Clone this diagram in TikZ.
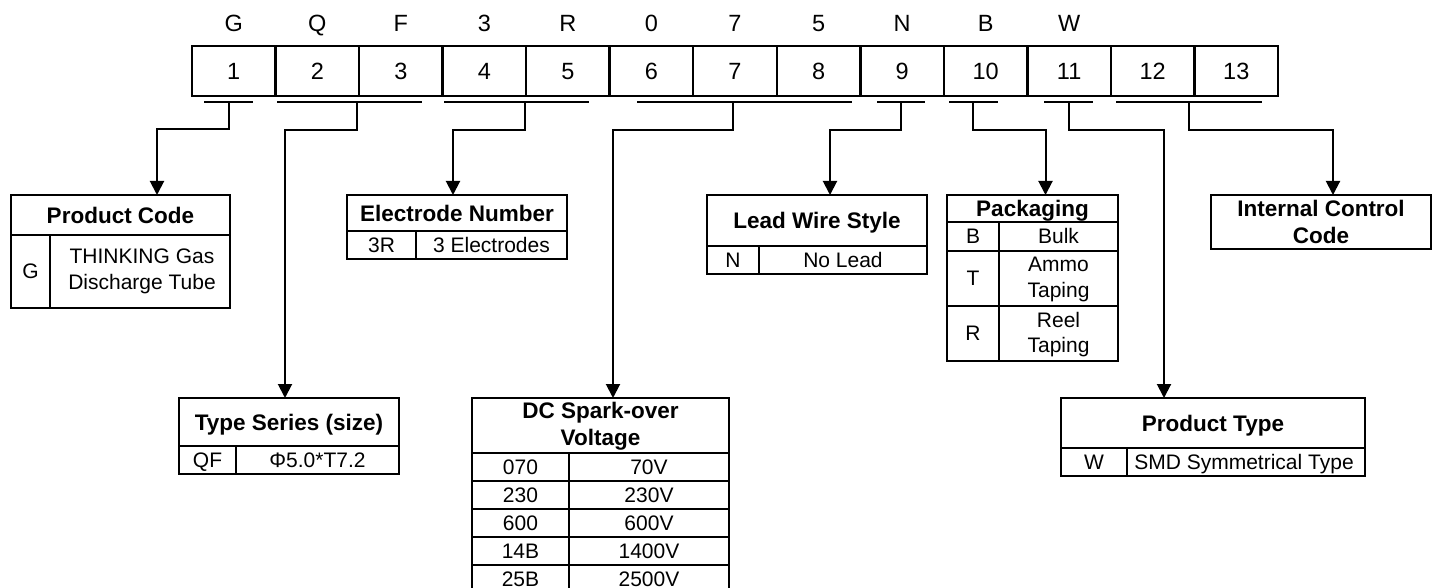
\documentclass[tikz,border=0pt]{standalone}
\usepackage{fontspec}
\setmainfont{Liberation Sans}
\usetikzlibrary{arrows.meta}
\tikzset{
  tbl/.style={draw=black, line width=2.5pt},
  tline/.style={line width=2.5pt},
  conn/.style={draw=black, line width=2pt},
  arr/.style={conn, -{Triangle[width=14pt,length=14pt]}},
  cellbox/.style={draw=black, line width=2.5pt, minimum width=83.54pt, minimum height=50pt, inner sep=0pt, text height=16.8pt, text depth=0pt, font=\fontsize{23.5}{28}\selectfont},
  toplet/.style={inner sep=0pt, text height=16.8pt, text depth=0pt, font=\fontsize{23.5}{28}\selectfont},
  hd/.style={inner sep=0pt, align=center, font=\bfseries\fontsize{22.5}{26.5}\selectfont},
  bd/.style={inner sep=0pt, align=center, font=\fontsize{21}{25.5}\selectfont},
  hd1/.style={hd, text height=16.1pt, text depth=0pt},
  bd1/.style={bd, text height=15pt, text depth=0pt}
}
\begin{document}
\begin{tikzpicture}[x=1pt,y=-1pt]
\useasboundingbox (0,0) rectangle (1436,588);
% top code cells
\foreach \i in {1,...,13} {
  \node[cellbox] (c\i) at ({192+(\i-0.5)*83.54},71) {\i};
}
\foreach \l [count=\i] in {G,Q,F,3,R,0,7,5,N,B,W} {
  \node[toplet] (l\i) at ({192+(\i-0.5)*83.54},23) {\l};
}
% underlines
\coordinate (g1a) at (204,102);  \coordinate (g1b) at (253,102);  \coordinate (g1) at (228.7,102);
\coordinate (g2a) at (277,102);  \coordinate (g2b) at (422,102);  \coordinate (g2) at (357,102);
\coordinate (g4a) at (444,102);  \coordinate (g4b) at (589,102);  \coordinate (g4) at (525,102);
\coordinate (g6a) at (637,102);  \coordinate (g6b) at (852,102);  \coordinate (g6) at (733,102);
\coordinate (g9a) at (877,102);  \coordinate (g9b) at (925,102);  \coordinate (g9) at (901,102);
\coordinate (g10a) at (949,102); \coordinate (g10b) at (998,102); \coordinate (g10) at (972.6,102);
\coordinate (g11a) at (1044,102); \coordinate (g11b) at (1093,102); \coordinate (g11) at (1069,102);
\coordinate (g12a) at (1116,102); \coordinate (g12b) at (1262,102); \coordinate (g12) at (1189,102);
\foreach \g in {1,2,4,6,9,10,11,12} { \draw[conn] (g\g a) -- (g\g b); }

% ---------- Product Code ----------
\draw[tbl] (11,195) rectangle (230,308);
\draw[tline] (11,235) -- (230,235);
\draw[tline] (50,235) -- (50,308);
\node[hd1] (pch) at (120.5,215) {Product Code};
\node[bd1] (pck) at (30.5,271.5) {G};
\node[bd] (pcv) at (142,271.5) {THINKING Gas\\ Discharge Tube};
\coordinate (pcIn) at (157,195);

% ---------- Electrode Number ----------
\draw[tbl] (347,195) rectangle (567,259);
\draw[tline] (347,231) -- (567,231);
\draw[tline] (416,231) -- (416,259);
\node[hd1] (enh) at (457,213) {Electrode Number};
\node[bd1] (enk) at (381.5,245) {3R};
\node[bd1] (env) at (491.5,245) {3 Electrodes};
\coordinate (enIn) at (453,195);

% ---------- Lead Wire Style ----------
\draw[tbl] (707,195) rectangle (927,274);
\draw[tline] (707,246) -- (927,246);
\draw[tline] (759,246) -- (759,274);
\node[hd1] (lwh) at (817,220.5) {Lead Wire Style};
\node[bd1] (lwk) at (733,260) {N};
\node[bd1] (lwv) at (843,260) {No Lead};
\coordinate (lwIn) at (830,195);

% ---------- Packaging ----------
\draw[tbl] (947,195) rectangle (1118,361);
\draw[tline] (947,222) -- (1118,222);
\draw[tline] (947,251) -- (1118,251);
\draw[tline] (947,306) -- (1118,306);
\draw[tline] (999,222) -- (999,361);
\node[hd1] (pkh) at (1032.5,208.5) {Packaging};
\node[bd1] (pkb) at (973,236.5) {B};
\node[bd1] (pkbv) at (1058.5,236.5) {Bulk};
\node[bd1] (pkt) at (973,278.5) {T};
\node[bd] (pktv) at (1058.5,279.5) {Ammo\\ Taping};
\node[bd1] (pkr) at (973,333.5) {R};
\node[bd] (pkrv) at (1058.5,334.5) {Reel\\ Taping};
\coordinate (pkIn) at (1045.5,195);

% ---------- Internal Control Code ----------
\draw[tbl] (1211,195) rectangle (1431,249);
\node[hd] (icc) at (1321,222) {Internal Control\\ Code};
\coordinate (icIn) at (1333,195);

% ---------- Type Series ----------
\draw[tbl] (179,398) rectangle (399,474);
\draw[tline] (179,446) -- (399,446);
\draw[tline] (236,446) -- (236,474);
\node[hd1] (tsh) at (289,422) {Type Series (size)};
\node[bd1] (tsk) at (207.5,460) {QF};
\node[bd1] (tsv) at (317.5,460) {Φ5.0*T7.2};
\coordinate (tsIn) at (285,398);

% ---------- DC Spark-over Voltage ----------
\draw[tbl] (472,600) -- (472,398) -- (729,398) -- (729,600);
\draw[tline] (472,453) -- (729,453);
\foreach \y in {481,509,537,565} { \draw[tline] (472,\y) -- (729,\y); }
\draw[tline] (569,453) -- (569,600);
\node[hd] (dch) at (600.5,426) {DC Spark-over\\ Voltage};
\foreach \k/\v [count=\j] in {070/70V,230/230V,600/600V,14B/1400V,25B/2500V} {
  \node[bd1] (dck\j) at (520.5,{453+(\j-0.5)*28}) {\k};
  \node[bd1] (dcv\j) at (649,{453+(\j-0.5)*28}) {\v};
}
\coordinate (dcIn) at (613,398);

% ---------- Product Type ----------
\draw[tbl] (1061,398) rectangle (1365,476);
\draw[tline] (1061,448) -- (1365,448);
\draw[tline] (1127,448) -- (1127,476);
\node[hd1] (pth) at (1213,423) {Product Type};
\node[bd1] (ptk) at (1094,462) {W};
\node[bd1] (ptv) at (1244,462) {SMD Symmetrical Type};
\coordinate (ptIn) at (1164,398);

% ---------- connectors ----------
\draw[arr] (g1) -- ++(0,27) -| (pcIn);
\draw[arr] (g2) -- ++(0,28.5) -| (tsIn);
\draw[arr] (g4) -- ++(0,28.5) -| (enIn);
\draw[arr] (g6) -- ++(0,28.5) -| (dcIn);
\draw[arr] (g9) -- ++(0,28.5) -| (lwIn);
\draw[arr] (g10) -- ++(0,28.5) -| (pkIn);
\draw[arr] (g11) -- ++(0,28.5) -| (ptIn);
\draw[arr] (g12) -- ++(0,28.5) -| (icIn);
\end{tikzpicture}
\end{document}
